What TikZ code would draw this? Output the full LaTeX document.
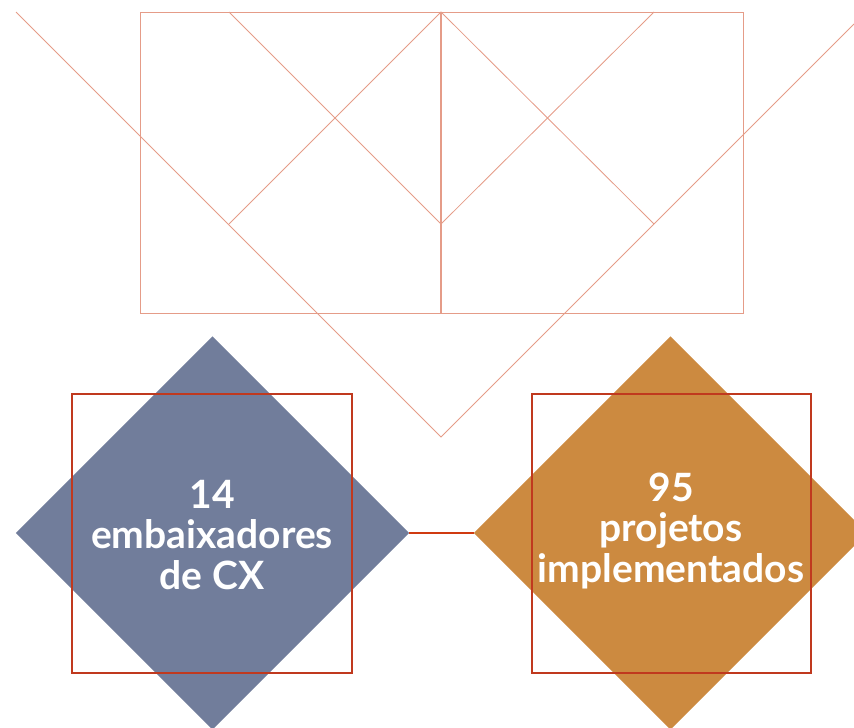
\documentclass[tikz,border=0pt]{standalone}
\usepackage{fontspec}
\setmainfont{Lato}
\definecolor{salmon}{HTML}{E59C88}
\definecolor{sqred}{HTML}{C0391E}
\definecolor{linkred}{HTML}{D03A10}
\definecolor{slate}{HTML}{717D9B}
\definecolor{ochre}{HTML}{CC8A40}
\begin{document}
\begin{tikzpicture}[x=1pt,y=-1pt,
  guide/.style={draw=salmon,line width=0.8pt},
  gbox/.style={draw=salmon,line width=1pt},
  frame/.style={draw=sqred,line width=1.2pt},
  lbl/.style={text=white,font=\fontsize{39}{40.5}\selectfont\bfseries,align=center}]
\useasboundingbox (0,0) rectangle (854,728);
% top pattern
\coordinate (tl) at (140,12);
\coordinate (br) at (743,313);
\coordinate (tm) at (441,12);
\coordinate (bm) at (441,313);
\coordinate (a1) at (229,12);
\coordinate (a2) at (654,12);
\coordinate (l1) at (229,224);
\coordinate (r1) at (654,224);
\coordinate (c1) at (441,224);
\coordinate (v) at (441,437);
\coordinate (s1) at (16,12);
\coordinate (s2) at (854,24);
\draw[gbox] (tl) rectangle (br);
\draw[draw=salmon,line width=1.6pt] (tm) -- (bm);
\draw[guide] (a1) -- (c1) -- (a2);
\draw[guide] (l1) -- (tm) -- (r1);
\draw[guide] (s1) -- (v) -- (s2);
% bottom
\node[draw=none,fill=slate,minimum width=278pt,minimum height=278pt,rotate=45] (d1) at (212.5,533) {};
\node[draw=none,fill=ochre,minimum width=278pt,minimum height=278pt,rotate=45] (d2) at (670.5,533) {};
\draw[linkred,line width=1.3pt] (d1.south east) -- (d2.north west);
\node[frame,minimum width=280pt,minimum height=279pt] (f1) at (212,533.5) {};
\node[frame,minimum width=279pt,minimum height=279pt] (f2) at (671.5,533.5) {};
\node[lbl] (t1) at (212,535) {14\\embaixadores\\de CX};
\node[lbl] (t2) at (671,531) {95\\projetos\\implementados};
\end{tikzpicture}
\end{document}
